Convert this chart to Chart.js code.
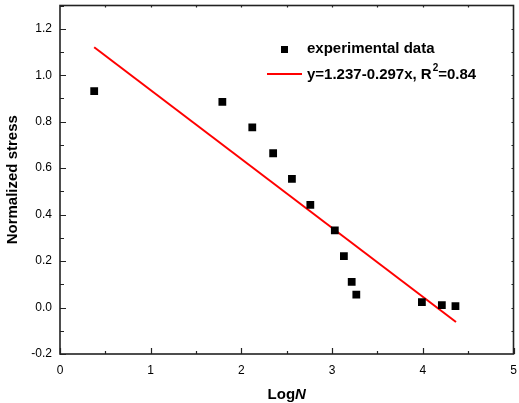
<!DOCTYPE html>
<html>
<head>
<meta charset="utf-8">
<script src="https://cdn.jsdelivr.net/npm/chart.js@4.4.1/dist/chart.umd.min.js"></script>
<style>
	body { margin: 0; background: #fff; }
	canvas { display: block; }
</style>
</head>
<body>
<canvas id="chart" width="519" height="403"></canvas>
<script>
// Values
var logN = [0.377, 1.79, 2.12, 2.35, 2.557, 2.76, 3.03, 3.13, 3.216, 3.267, 3.99, 4.21, 4.36];
var stress = [0.931, 0.885, 0.775, 0.664, 0.554, 0.442, 0.332, 0.221, 0.110, 0.056, 0.023, 0.010, 0.006];

// Fit line end points
var fitX = [0.377, 4.366];
var fitY = [1.120, -0.062];

var xTicks = [0, 1, 2, 3, 4, 5];
var yTicks = [-0.2, 0, 0.2, 0.4, 0.6, 0.8, 1.0, 1.2];

var seriesName = "experimental data";
var fitName = ["y=1.237-0.297x, R", "2", "=0.84"];
var xTitle = ["Log", "N"];
var yTitle = "Normalized stress";

var FONT = "'Liberation Sans', Arial, sans-serif";

function pairs(xs, ys) {
	return xs.map(function(x, i) {
		return {x: x, y: ys[i]};
	});
}

// no extra room for the end labels, the box is fixed
function noPad(scale) {
	scale.paddingLeft = 0;
	scale.paddingRight = 0;
	scale.paddingTop = 0;
	scale.paddingBottom = 0;
}

var frame = {
	id: "frame",
	afterDraw: function(chart) {
		var ctx = chart.ctx;
		var a = chart.chartArea;
		var xs = chart.scales.x, ys = chart.scales.y;
		ctx.save();

		// box
		ctx.strokeStyle = "#222";
		ctx.lineWidth = 1.6;
		ctx.strokeRect(a.left, a.top, a.right - a.left, a.bottom - a.top);

		ctx.lineWidth = 1.2;
		ctx.beginPath();
		var v, p;
		// left and right ticks
		for(var k = -2; k <= 13; k++) {
			v = k / 10;
			p = Math.round(ys.getPixelForValue(v)) + 0.5;
			var major = (k % 2 === 0) && k <= 12;
			ctx.moveTo(a.left, p);
			ctx.lineTo(a.left + (major ? 6 : 4), p);
			if(k > -2 && k < 13) {
				ctx.moveTo(a.right, p);
				ctx.lineTo(a.right - 2, p);
			}
		}
		// bottom and top ticks
		for(k = 0; k <= 10; k++) {
			v = k / 2;
			p = Math.round(xs.getPixelForValue(v)) + 0.5;
			ctx.moveTo(p, a.bottom);
			ctx.lineTo(p, a.bottom - (k % 2 === 0 ? 6 : 3));
			if(k > 0 && k < 10) {
				ctx.moveTo(p, a.top);
				ctx.lineTo(p, a.top + 2);
			}
		}
		ctx.stroke();

		// legend
		ctx.fillStyle = "#000";
		ctx.fillRect(281, 46, 7, 7);
		ctx.strokeStyle = "#ff0000";
		ctx.lineWidth = 2;
		ctx.beginPath();
		ctx.moveTo(267, 74);
		ctx.lineTo(302, 74);
		ctx.stroke();

		ctx.font = "bold 15px " + FONT;
		ctx.textBaseline = "middle";
		ctx.textAlign = "left";
		ctx.fillText(seriesName, 307, 49);
		var tx = 307;
		ctx.fillText(fitName[0], tx, 75);
		tx += ctx.measureText(fitName[0]).width + 1;
		ctx.font = "bold 10px " + FONT;
		ctx.fillText(fitName[1], tx, 68);
		tx += ctx.measureText(fitName[1]).width;
		ctx.font = "bold 15px " + FONT;
		ctx.fillText(fitName[2], tx, 75);

		// x title
		ctx.font = "bold 15px " + FONT;
		var w1 = ctx.measureText(xTitle[0]).width;
		ctx.font = "italic bold 15px " + FONT;
		var w2 = ctx.measureText(xTitle[1]).width;
		var cx = (a.left + a.right) / 2 - (w1 + w2) / 2;
		ctx.font = "bold 15px " + FONT;
		ctx.fillText(xTitle[0], cx, 395);
		ctx.font = "italic bold 15px " + FONT;
		ctx.fillText(xTitle[1], cx + w1, 395);

		// y title
		ctx.translate(13, (a.top + a.bottom) / 2);
		ctx.rotate(-Math.PI / 2);
		ctx.font = "bold 15px " + FONT;
		ctx.textAlign = "center";
		ctx.fillText(yTitle, 0, 0);
		ctx.restore();
	}
};

new Chart(document.getElementById("chart").getContext("2d"), {
	type: "scatter",
	data: {
		datasets: [{
			label: seriesName,
			data: pairs(logN, stress),
			pointStyle: "rect",
			pointRadius: 5.5,
			pointHoverRadius: 5.5,
			backgroundColor: "#000",
			borderColor: "#000",
			borderWidth: 0,
			showLine: false
		}, {
			label: fitName.join(""),
			data: pairs(fitX, fitY),
			showLine: true,
			borderColor: "#ff0000",
			borderWidth: 2,
			pointRadius: 0,
			fill: false
		}]
	},
	options: {
		responsive: false,
		animation: false,
		devicePixelRatio: 1,
		layout: {padding: {top: 5, right: 4, left: 0, bottom: 0}},
		plugins: {legend: {display: false}, tooltip: {enabled: false}},
		scales: {
			x: {
				type: "linear",
				min: 0,
				max: 5,
				grid: {display: false, drawTicks: false},
				border: {display: false},
				afterBuildTicks: function(scale) {
					scale.ticks = xTicks.map(function(v) { return {value: v}; });
				},
				afterFit: function(scale) {
					scale.height = 49;
					noPad(scale);
				},
				ticks: {
					padding: 9,
					color: "#000",
					font: {family: FONT, size: 12},
					callback: function(v) { return String(v); }
				}
			},
			y: {
				type: "linear",
				min: -0.2,
				max: 1.3,
				grid: {display: false, drawTicks: false},
				border: {display: false},
				afterBuildTicks: function(scale) {
					scale.ticks = yTicks.map(function(v) { return {value: v}; });
				},
				afterFit: function(scale) {
					scale.width = 60;
					noPad(scale);
				},
				ticks: {
					padding: 8,
					color: "#000",
					font: {family: FONT, size: 12},
					callback: function(v) { return Number(v).toFixed(1); }
				}
			}
		}
	},
	plugins: [frame]
});
</script>
</body>
</html>
